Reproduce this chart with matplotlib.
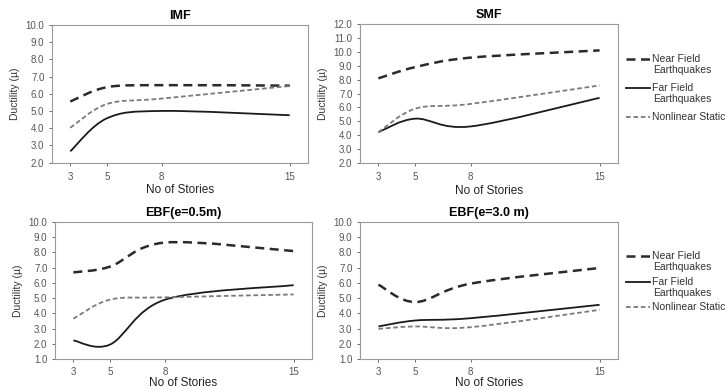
import numpy as np
import matplotlib
matplotlib.use("Agg")
import matplotlib.pyplot as plt
from matplotlib.path import Path
from matplotlib.patches import PathPatch
from matplotlib.lines import Line2D

plt.rcParams['font.family'] = ['Liberation Sans', 'DejaVu Sans']

stories = [3, 5, 8, 15]

imf_near = [5.55, 6.38, 6.5, 6.47]
imf_far = [2.65, 4.57, 5.0, 4.75]
imf_static = [4.02, 5.4, 5.72, 6.45]

smf_near = [8.09, 8.9, 9.58, 10.1]
smf_far = [4.22, 5.19, 4.63, 6.69]
smf_static = [4.22, 5.91, 6.25, 7.58]

ebf05_near = [6.69, 7.07, 8.65, 8.09]
ebf05_far = [2.22, 1.95, 4.9, 5.85]
ebf05_static = [3.65, 4.9, 5.05, 5.24]

ebf30_near = [5.88, 4.74, 5.95, 6.98]
ebf30_far = [3.14, 3.53, 3.68, 4.56]
ebf30_static = [2.98, 3.14, 3.09, 4.23]

labels = ["Near Field\nEarthquakes", "Far Field\nEarthquakes", "Nonlinear Static"]

W, H = 725, 390
GRAY = "#9a9a9a"
styles = [
    dict(color="#2a2a2a", lw=1.8, ls=(0, (3.6, 2.2))),
    dict(color="#1a1a1a", lw=1.3, ls="-"),
    dict(color="#7a7a7a", lw=1.3, ls=(0, (2.6, 1.5))),
]


def smooth_path(x, y):
    # bezier segments through the points, spreadsheet-style smoothing
    pts = np.column_stack([x, y]).astype(float)
    n = len(pts)
    verts = [pts[0]]
    codes = [Path.MOVETO]
    for i in range(n - 1):
        p_prev = pts[max(i - 1, 0)]
        p0, p1 = pts[i], pts[i + 1]
        p_next = pts[min(i + 2, n - 1)]
        verts += [p0 + (p1 - p_prev) / 6, p1 - (p_next - p0) / 6, p1]
        codes += [Path.CURVE4] * 3
    return Path(verts, codes)


def panel(rect, title, series, ylim, yticks, xpad=4, labelpad=2):
    l, t, r, b = rect
    ax = fig.add_axes([l / W, 1 - b / H, (r - l) / W, (b - t) / H])
    for vals, st in zip(series, styles):
        ax.add_patch(PathPatch(smooth_path(stories, vals), fill=False,
                               edgecolor=st["color"], lw=st["lw"],
                               linestyle=st["ls"]))
    ax.set_xlim(2, 16)
    ax.set_ylim(*ylim)
    ax.set_xticks(stories)
    ax.set_yticks(yticks)
    ax.set_yticklabels(["%.1f" % v for v in yticks])
    for s in ax.spines.values():
        s.set_color(GRAY)
        s.set_linewidth(0.8)
    ax.tick_params(colors="#555555", labelsize=7, length=2.5, width=0.6,
                   pad=3, direction="out")
    ax.tick_params(axis="x", pad=xpad)
    ax.set_title(title, fontsize=9, fontweight="bold", pad=4)
    ax.set_xlabel("No of Stories", fontsize=8.5, labelpad=labelpad, color="#222222")
    ax.set_ylabel("Ductility (µ)", fontsize=7.5, labelpad=4, color="#333333")
    return ax


def legend(ys):
    for (y, lab), st in zip(zip(ys, labels), styles):
        fig.add_artist(Line2D([626 / W, 650 / W], [1 - y / H] * 2,
                              transform=fig.transFigure, color=st["color"],
                              lw=st["lw"], ls=st["ls"]))
        lines = lab.split("\n")
        for k, txt in enumerate(lines):
            fig.text((652 if k == 0 else 653) / W, 1 - (y + 11 * k) / H, txt,
                     fontsize=7.5, va="center", ha="left", color="#333333")


fig = plt.figure(figsize=(7.25, 3.9), dpi=100)

panel((52, 25, 308, 162.5), "IMF", [imf_near, imf_far, imf_static],
      (2, 10), np.arange(2, 10.1, 1))
panel((360, 24, 618, 163), "SMF", [smf_near, smf_far, smf_static],
      (2, 12), np.arange(2, 12.1, 1))
panel((55, 222, 312, 359), "EBF(e=0.5m)", [ebf05_near, ebf05_far, ebf05_static],
      (1, 10), np.arange(1, 10.1, 1), xpad=3, labelpad=0)
panel((360, 222, 618, 359), "EBF(e=3.0 m)", [ebf30_near, ebf30_far, ebf30_static],
      (1, 10), np.arange(1, 10.1, 1), xpad=3, labelpad=0)

legend([59, 88, 117])
legend([256, 282, 307])

fig.savefig("out.png", dpi=100)
